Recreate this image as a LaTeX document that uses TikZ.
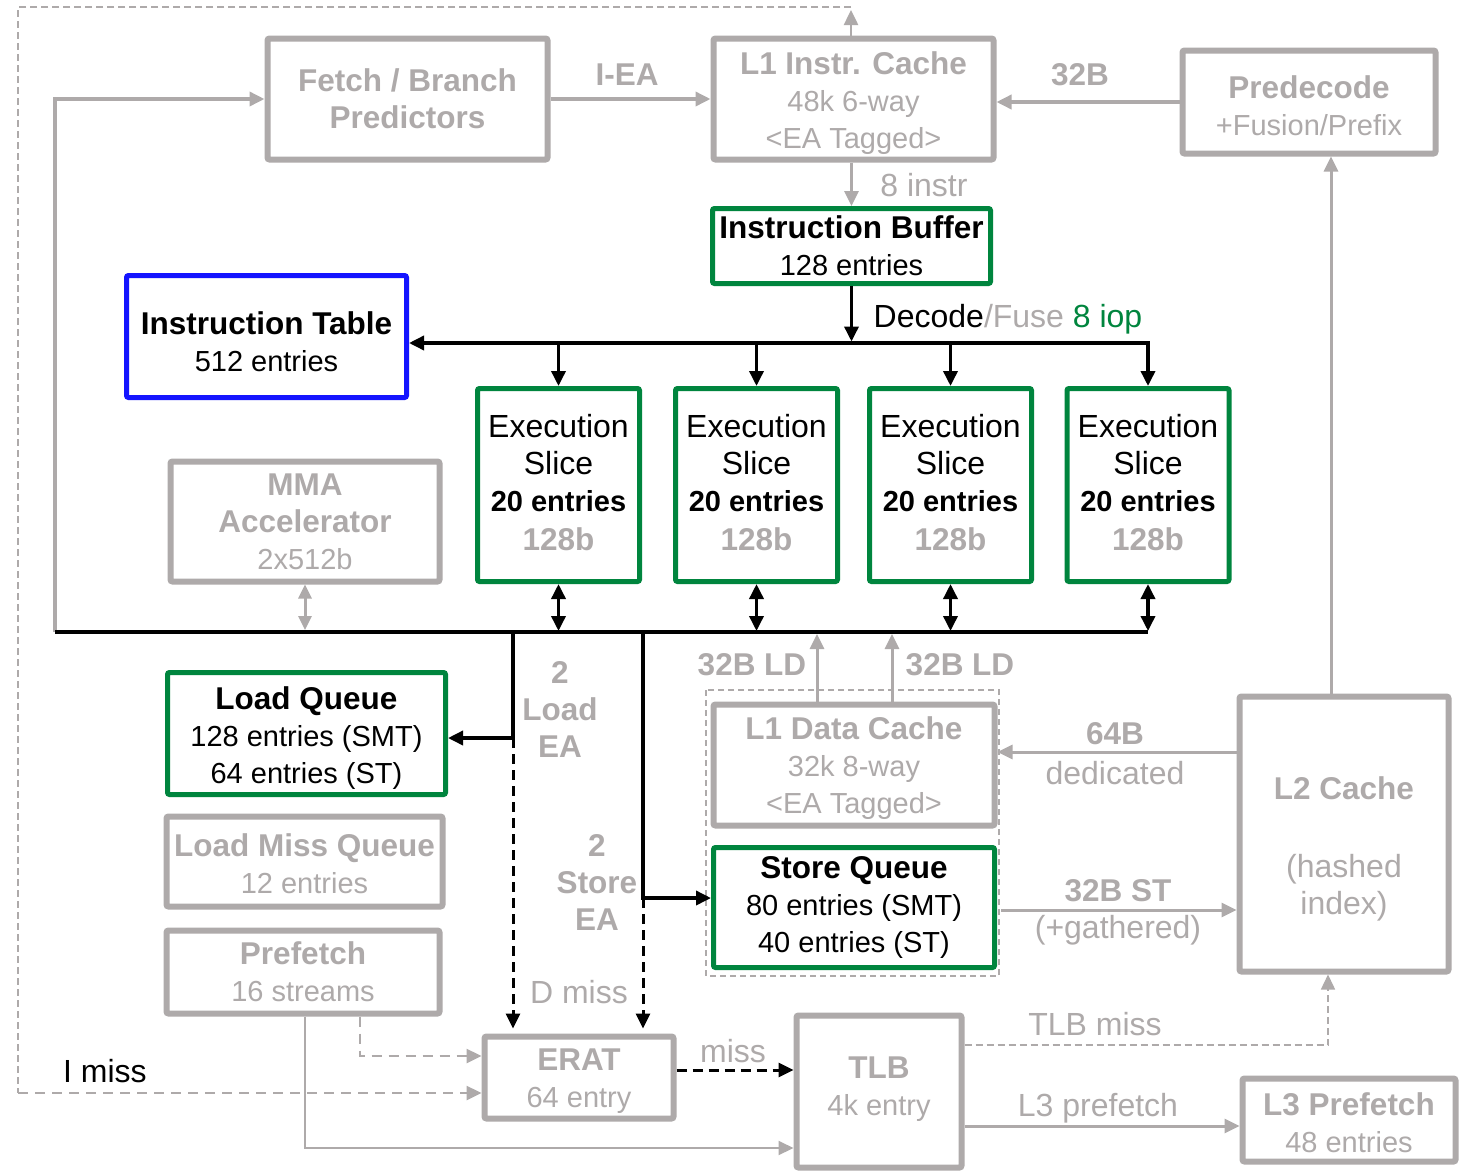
\documentclass[tikz,border=0pt]{standalone}
\usepackage{fontspec}
\setmainfont{Liberation Sans}
\usetikzlibrary{arrows.meta}
\definecolor{gr}{RGB}{174,170,170}
\definecolor{gn}{RGB}{0,133,62}
\definecolor{bl}{RGB}{20,20,255}
\newcommand\fb{\fontsize{31.5}{37}\selectfont\bfseries}
\newcommand\fs{\fontsize{29}{37}\selectfont}
\newcommand\fl{\fontsize{32}{37}\selectfont}
% invisible struts that push a node's text block down (\up) or up (\dn)
\newcommand\up[1]{\rule{0pt}{#1}}
\newcommand\dn[1]{\rule[-#1]{0pt}{#1}}
\begin{document}
\begin{tikzpicture}[x=1pt,y=-1pt,
  box/.style={draw=gr, line width=6pt, rounded corners=2pt, inner sep=0pt, align=center, text=gr, font=\fs},
  gbox/.style={box, draw=gn, line width=5pt, text=black},
  bbox/.style={box, draw=bl, line width=5pt, text=black},
  lab/.style={inner sep=0pt, align=center, text=gr, font=\fl},
  blab/.style={lab, font=\fb},
  tipx/.style={-{Triangle[length=15pt,width=14pt]}},
  garr/.style={draw=gr, line width=3.5pt, tipx},
  barr/.style={draw=black, line width=3.5pt, tipx},
  bboth/.style={draw=black, line width=3.5pt, {Triangle[length=15pt,width=14pt]}-{Triangle[length=15pt,width=14pt]}, shorten >=1pt},
  gboth/.style={draw=gr, line width=3pt, {Triangle[length=14pt,width=13pt]}-{Triangle[length=14pt,width=13pt]}, shorten >=2pt},
  bdash/.style={barr, line width=3pt, dash pattern=on 10pt off 6pt},
  gdash/.style={garr, line width=2.5pt, dash pattern=on 10pt off 7pt},
  gthin/.style={garr, line width=2pt},
  gdot/.style={draw=gr, line width=1.5pt, dash pattern=on 7pt off 4pt},
]
\fill[white] (0,0) rectangle (1468,1171);
\useasboundingbox (0,0) rectangle (1468,1171);

% ---------- blocks ----------
\node[box, minimum width=280pt, minimum height=121pt] (fetch) at (407.5,99) {{\fb Fetch / Branch}\\{\fb Predictors}};
\node[box, minimum width=280pt, minimum height=121pt] (l1i) at (853.5,99) {{\fb\up{31pt}L1 Instr. Cache}\\48k 6-way\\<EA Tagged>};
\node[box, minimum width=253pt, minimum height=103pt] (pre) at (1309,102) {{\fb\up{31pt}Predecode}\\+Fusion/Prefix};
\node[gbox, minimum width=278pt, minimum height=75pt] (ib) at (851.5,246) {{\fb Instruction Buffer}\\128 entries};
\node[bbox, minimum width=280pt, minimum height=122pt] (it) at (266.5,336.5) {{\fb\up{33pt}Instruction Table}\\512 entries};
\foreach \n/\x in {e1/558.5, e2/756.5, e3/950.5, e4/1148}
  \node[gbox, minimum width=162pt, minimum height=193pt] (\n) at (\x,485)
    {{\fl Execution}\\{\fl Slice}\\{\bfseries 20 entries}\\[2pt]{\fb\color{gr}128b\dn{6pt}}};
\node[box, minimum width=269pt, minimum height=120pt] (mma) at (305,521.5) {{\fb MMA}\\{\fb Accelerator}\\2x512b};
\node[gbox, minimum width=278pt, minimum height=122pt] (lq) at (306.5,733.5) {{\fb\up{31pt}Load Queue}\\128 entries (SMT)\\64 entries (ST)};
\node[box, minimum width=276pt, minimum height=90pt] (lmq) at (304.5,861.5) {{\fb\up{27pt}Load Miss Queue}\\12 entries};
\node[box, minimum width=273pt, minimum height=83pt] (pf) at (303,972) {{\fb Prefetch}\\16 streams};
\node[box, minimum width=281pt, minimum height=121pt] (l1d) at (854,765) {{\fb\up{29pt}L1 Data Cache}\\32k 8-way\\<EA Tagged>};
\node[gbox, minimum width=281pt, minimum height=120pt] (sq) at (854,907.5) {{\fb Store Queue}\\80 entries (SMT)\\40 entries (ST)};
\node[box, minimum width=209pt, minimum height=275pt] (l2) at (1344,834) {{\fb\up{53pt}L2 Cache}\\[41pt]{\fl (hashed}\\{\fl index)}};
\node[box, minimum width=189pt, minimum height=82pt] (erat) at (579,1077.5) {{\fb\up{29pt}ERAT}\\64 entry};
\node[box, minimum width=165pt, minimum height=152pt] (tlb) at (879,1091.5) {{\fb TLB}\\4k entry\dn{10pt}};
\node[box, minimum width=213pt, minimum height=83pt] (l3p) at (1349,1120) {{\fb\up{29pt}L3 Prefetch}\\48 entries};

% data-cache / store-queue group
\draw[gdot, dash pattern=on 6pt off 4pt] (706,690) rectangle (999,976);

% ---------- labels ----------
\node[blab] (lbiea) at (627,75) {I-EA};
\node[blab] (lbpre) at (1080,75) {32B};
\node[lab] (lbins) at (924,185) {8 instr};
\node[lab, text=black] (lbdec) at (1008,319) {Decode\textcolor{gr}{/Fuse} \textcolor{gn}{8 iop}};
\node[blab] (lbld) at (560,709) {2\\Load\\EA};
\node[blab] (lbst) at (597,882) {2\\Store\\EA};
\node[blab] (lbldA) at (752,665) {32B LD};
\node[blab] (lbldB) at (960,665) {32B LD};
\node[blab] (lb64) at (1115,734) {64B};
\node[lab] (lbded) at (1115,773) {dedicated};
\node[blab] (lb32st) at (1118,891) {32B ST};
\node[lab] (lbgat) at (1118,930) {(+gathered)};
\node[lab] (lbdm) at (579,992) {D miss};
\node[lab, text=black] (lbim) at (105,1071) {I miss};
\node[lab] (lbmiss) at (733,1051) {miss};
\node[lab] (lbtlbm) at (1095,1024) {TLB miss};
\node[lab] (lbl3) at (1098,1108) {L3 prefetch};

% ---------- helper coordinates ----------
\coordinate (busL) at (55,632);
\coordinate (busR) at (1148,632);
\coordinate (dbus) at (851,343);
\coordinate (ldx) at (513,738);
\coordinate (stx) at (643,898);
\coordinate (ld1) at (817,690);
\coordinate (ld2) at (892,690);
\coordinate (l2up) at (1331,400);
\coordinate (c64) at (1100,752);
\coordinate (c32) at (1100,910);
\coordinate (pfd) at (360,1056);
\coordinate (pft) at (305,1148);
\coordinate (em) at (700,1070);
\coordinate (tm) at (1328,1045);
\coordinate (tl3) at (1100,1126);
\coordinate (imtop) at (851,10);
\coordinate (imc) at (851,7);
\coordinate (imbot) at (18,1093);

% ---------- front end ----------
\draw[garr] (busL) |- (fetch.west);
\draw[garr] (fetch.east) -- (fetch.east -| l1i.west);
\draw[garr] (pre.west) -- (pre.west -| l1i.east);
\draw[garr, line width=3pt] (l2.north -| l2up) -- (pre.south -| l2up);
\draw[garr, line width=3pt] (ib.north |- l1i.south) -- (ib.north);
\draw[garr, line width=2.5pt] (l1i.north -| imtop) -- (imtop);
\draw[gdot] (imc) -| (imbot);
\draw[gdash] (imbot) -- (erat.west |- imbot);

% ---------- dispatch ----------
\draw[barr, shorten >=1.5pt] (ib.south) -- (ib.south |- dbus);
\draw[draw=black, line width=3.5pt, {Triangle[length=15pt,width=14pt]}-{Triangle[length=15pt,width=14pt]}]
  (it.east |- dbus) -- (e4.north |- dbus) -- (e4.north);
\foreach \n in {e1,e2,e3}
  \draw[barr] (\n.north |- dbus) -- (\n.north);

% ---------- result bus ----------
\draw[black, line width=4pt] (busL) -- (busR);
\foreach \n in {e1,e2,e3,e4}
  \draw[bboth] (\n.south) -- (\n.south |- busL);
\draw[gboth] (mma.south) -- (mma.south |- busL);

% ---------- load / store ----------
\draw[barr] (ldx |- busL) -- (ldx) -- (ldx -| lq.east);
\draw[barr] (stx |- busL) -- (stx) -- (stx -| sq.west);
\draw[bdash, shorten >=5pt] (ldx) -- (ldx |- erat.north);
\draw[bdash, shorten >=5pt] (stx) -- (stx |- erat.north);
\draw[garr, line width=3pt, shorten >=2pt] (l1d.north -| ld1) -- (ld1 |- busL);
\draw[garr, line width=3pt, shorten >=2pt] (l1d.north -| ld2) -- (ld2 |- busL);
\draw[garr, line width=3pt] (l2.west |- c64) -- (l1d.east |- c64);
\draw[garr, line width=3pt, shorten <=4pt] (sq.east |- c32) -- (l2.west |- c32);

% ---------- translation ----------
\draw[gdash] (pf.south -| pfd) |- (erat.west |- pfd);
\draw[gthin] (pf.south -| pft) |- (tlb.west |- pft);
\draw[bdash] (erat.east |- em) -- (tlb.west |- em);
\draw[gdot, tipx] (tlb.east |- tm) -| (l2.south -| tm);
\draw[garr, line width=3pt] (tlb.east |- tl3) -- (l3p.west |- tl3);
\end{tikzpicture}
\end{document}
